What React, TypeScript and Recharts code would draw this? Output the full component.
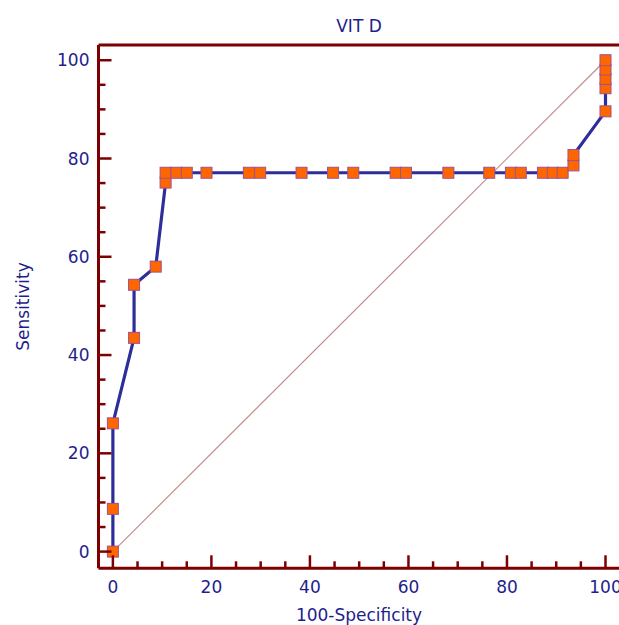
import { LineChart, Line, XAxis, YAxis, ReferenceLine } from 'recharts';

// ROC points: 100-Specificity (x) vs Sensitivity (y)
const fpr = [0, 0, 0, 4.3, 4.3, 8.7, 10.7, 10.7, 12.9, 15.0, 19.0, 27.6, 29.9, 38.3, 44.7, 48.8, 57.4, 59.5, 68.1, 76.4, 80.8, 82.8, 87.3, 89.3, 91.3, 93.5, 93.5, 100, 100, 100, 100, 100];
const sens = [0, 8.7, 26.1, 43.5, 54.3, 58.0, 75.1, 77.1, 77.1, 77.1, 77.1, 77.1, 77.1, 77.1, 77.1, 77.1, 77.1, 77.1, 77.1, 77.1, 77.1, 77.1, 77.1, 77.1, 77.1, 78.6, 80.7, 89.6, 94.3, 96.2, 98.1, 100];

// chance diagonal
const diagX = [0, 100];
const diagY = [0, 100];

const tickValues = [0, 5, 10, 15, 20, 25, 30, 35, 40, 45, 50, 55, 60, 65, 70, 75, 80, 85, 90, 95, 100];

const X_DOMAIN = [-2.92, 103.35];
const Y_DOMAIN = [-3.4, 103.1];

const rocData = fpr.map((x, i) => ({ x, y: sens[i] }));
const diagData = diagX.map((x, i) => ({ x, y: diagY[i] }));

const AXIS = '#7d0000';
const TEXT = '#1e1e8c';
const FONT = '"DejaVu Sans", Verdana, sans-serif';

function XTick(props: any) {
  const { x, y, payload } = props;
  const major = payload.value % 20 === 0;
  return (
    <g>
      <line x1={x} x2={x} y1={y} y2={y - (major ? 13 : 7)} stroke={AXIS} strokeWidth={2.5} />
      {major && (
        <text x={x} y={y + 25} textAnchor="middle" fill={TEXT} fontSize={17} fontFamily={FONT}>
          {payload.value}
        </text>
      )}
    </g>
  );
}

function YTick(props: any) {
  const { x, y, payload } = props;
  const major = payload.value % 20 === 0;
  return (
    <g>
      <line x1={x} x2={x + (major ? 13 : 7)} y1={y} y2={y} stroke={AXIS} strokeWidth={2.5} />
      {major && (
        <text x={x - 9} y={y + 6} textAnchor="end" fill={TEXT} fontSize={17} fontFamily={FONT}>
          {payload.value}
        </text>
      )}
    </g>
  );
}

function SquareDot(props: any) {
  const { cx, cy, index } = props;
  if (cx == null || cy == null) return <g key={index} />;
  return <rect key={index} x={cx - 5.5} y={cy - 5.5} width={11} height={11} fill="#ff6600" stroke="#a0508c" strokeWidth={1} />;
}

export default function App() {
  return (
    <div style={{ position: 'absolute', left: 0, top: 0, width: 619, height: 625, overflow: 'hidden', background: '#fff' }}>
      <LineChart width={640} height={625} margin={{ top: 45, right: 18, bottom: 0, left: 0 }}>
        <XAxis
          dataKey="x"
          type="number"
          domain={X_DOMAIN}
          allowDataOverflow
          ticks={tickValues}
          interval={0}
          tickSize={0}
          tickMargin={0}
          tickLine={false}
          axisLine={{ stroke: AXIS, strokeWidth: 3 }}
          tick={<XTick />}
          height={56.7}
        />
        <YAxis
          dataKey="y"
          type="number"
          domain={Y_DOMAIN}
          allowDataOverflow
          ticks={tickValues}
          interval={0}
          tickSize={0}
          tickMargin={0}
          tickLine={false}
          axisLine={{ stroke: AXIS, strokeWidth: 3 }}
          tick={<YTick />}
          width={98.5}
        />
        <ReferenceLine y={Y_DOMAIN[1]} stroke={AXIS} strokeWidth={3} />
        <ReferenceLine x={X_DOMAIN[1]} stroke={AXIS} strokeWidth={3} />
        <Line
          data={diagData}
          dataKey="y"
          type="linear"
          stroke="#c88c8c"
          strokeWidth={1.2}
          dot={false}
          activeDot={false}
          isAnimationActive={false}
        />
        <Line
          data={rocData}
          dataKey="y"
          type="linear"
          stroke="#2e2e9a"
          strokeWidth={3.2}
          dot={<SquareDot />}
          activeDot={false}
          isAnimationActive={false}
        />
        <text x={359} y={32} textAnchor="middle" fill={TEXT} fontSize={17} fontFamily={FONT}>VIT D</text>
        <text x={29} y={306.5} transform="rotate(-90 29 306.5)" textAnchor="middle" fill={TEXT} fontSize={17} fontFamily={FONT}>Sensitivity</text>
        <text x={359} y={621} textAnchor="middle" fill={TEXT} fontSize={17} fontFamily={FONT}>100-Specificity</text>
      </LineChart>
    </div>
  );
}
